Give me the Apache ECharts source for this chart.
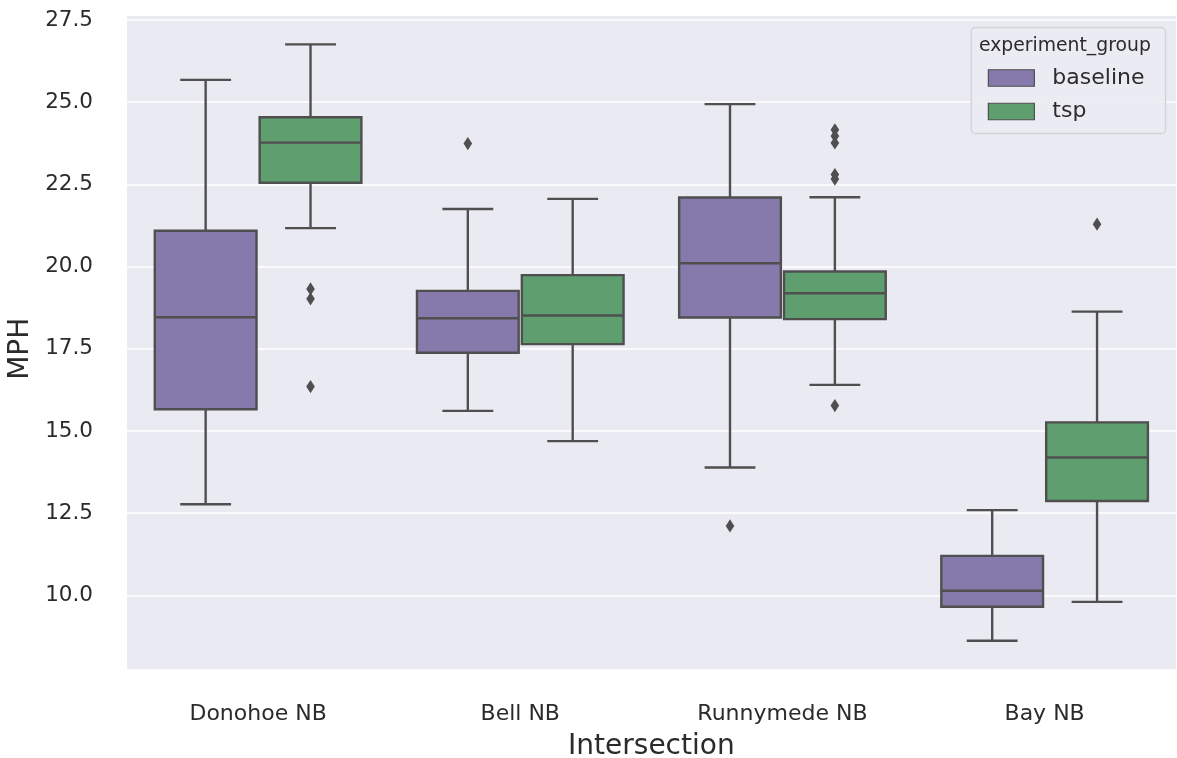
<!DOCTYPE html>
<html>
<head>
<meta charset="utf-8">
<script src="https://cdn.jsdelivr.net/npm/echarts@6/dist/echarts.min.js"></script>
<style>
  html, body { margin: 0; padding: 0; background: #ffffff; }
  #chart { width: 1177px; height: 758px; }
</style>
</head>
<body>
<div id="chart"></div>
<script>
// Intersections along the x axis
const categories = ['Donohoe NB', 'Bell NB', 'Runnymede NB', 'Bay NB'];
const yTicks = [10, 12.5, 15, 17.5, 20, 22.5, 25, 27.5];

// Box summaries per intersection: [lower whisker, Q1, median, Q3, upper whisker]
const baselineBoxes = [
  [12.77, 15.66, 18.46, 21.09, 25.68],
  [15.61, 17.38, 18.43, 19.26, 21.75],
  [13.89, 18.45, 20.10, 22.10, 24.94],
  [8.62, 9.65, 10.14, 11.20, 12.59]
];
const tspBoxes = [
  [21.17, 22.55, 23.77, 24.54, 26.76],
  [14.69, 17.64, 18.51, 19.74, 22.06],
  [16.40, 18.40, 19.19, 19.85, 22.11],
  [9.80, 12.87, 14.19, 15.26, 18.63]
];

// Outliers: [intersection index, MPH]
const baselineOutliers = [
  [1, 23.74],
  [2, 12.11]
];
const tspOutliers = [
  [0, 19.32], [0, 19.02], [0, 16.35],
  [2, 24.16], [2, 23.97], [2, 23.76], [2, 22.80], [2, 22.66], [2, 15.77],
  [3, 21.29]
];

const PURPLE = '#8679ab';
const GREEN = '#5f9e6e';
const EDGE = '#4f4f4f';
const LW = 2.4;
const FONT = 'DejaVu Sans';
const TEXT = '#2b2b2b';

function boxRenderer(side) {
  return function (params, api) {
    const cat = api.value(0);
    const band = api.size([1, 0])[0];
    const cx = api.coord([cat, 0])[0] + side * 0.2 * band;
    const half = band * 0.194;
    const capHalf = half / 2;
    const y = (i) => api.coord([cat, api.value(i)])[1];
    const yMin = y(1), yQ1 = y(2), yMed = y(3), yQ3 = y(4), yMax = y(5);
    const ls = { stroke: EDGE, lineWidth: LW, fill: null };
    return {
      type: 'group',
      children: [
        { type: 'line', shape: { x1: cx, y1: yMax, x2: cx, y2: yQ3 }, style: ls },
        { type: 'line', shape: { x1: cx, y1: yQ1, x2: cx, y2: yMin }, style: ls },
        { type: 'line', shape: { x1: cx - capHalf, y1: yMax, x2: cx + capHalf, y2: yMax }, style: ls },
        { type: 'line', shape: { x1: cx - capHalf, y1: yMin, x2: cx + capHalf, y2: yMin }, style: ls },
        { type: 'rect', shape: { x: cx - half, y: yQ3, width: half * 2, height: yQ1 - yQ3 },
          style: { fill: api.visual('color'), stroke: EDGE, lineWidth: LW } },
        { type: 'line', shape: { x1: cx - half, y1: yMed, x2: cx + half, y2: yMed }, style: ls }
      ]
    };
  };
}

function outlierRenderer(side) {
  return function (params, api) {
    const cat = api.value(0);
    const band = api.size([1, 0])[0];
    const p = api.coord([cat, api.value(1)]);
    const cx = p[0] + side * 0.2 * band;
    const cy = p[1];
    const w = 4.3, h = 6.6;
    return {
      type: 'polygon',
      shape: { points: [[cx, cy - h], [cx + w, cy], [cx, cy + h], [cx - w, cy]] },
      style: { fill: EDGE, stroke: null }
    };
  };
}

const boxData = (rows) => rows.map((r, i) => [i].concat(r));

const chart = echarts.init(document.getElementById('chart'), null, { renderer: 'canvas' });

const option = {
  animation: false,
  backgroundColor: '#ffffff',
  textStyle: { fontFamily: FONT },
  grid: { left: 127, right: 1.3, top: 20, bottom: 80.5, containLabel: false, outerBoundsMode: 'none' },
  graphic: [
    {
      type: 'rect',
      z: -100,
      shape: { x: 127, y: 16, width: 1049, height: 653.3 },
      style: { fill: '#eaeaf2' },
      silent: true
    }
  ],
  title: {
    text: 'experiment_group',
    left: 979,
    top: 37,
    padding: 0,
    textStyle: { fontFamily: FONT, fontSize: 18.8, fontWeight: 'normal', color: TEXT }
  },
  legend: {
    orient: 'vertical',
    right: 11.5,
    top: 27.5,
    padding: [39.5, 21, 11, 16.5],
    itemWidth: 46,
    itemHeight: 16.5,
    itemGap: 11.5,
    backgroundColor: 'rgba(235,235,243,0.88)',
    borderColor: '#d2d2d8',
    borderWidth: 1.3,
    borderRadius: 4,
    selectedMode: false,
    textStyle: { fontFamily: FONT, fontSize: 22, color: TEXT, padding: [0, 0, 0, 13] },
    data: [
      { name: 'baseline', icon: 'rect', itemStyle: { color: PURPLE, borderColor: EDGE, borderWidth: 1.2 } },
      { name: 'tsp', icon: 'rect', itemStyle: { color: GREEN, borderColor: EDGE, borderWidth: 1.2 } }
    ]
  },
  xAxis: {
    type: 'category',
    data: categories,
    boundaryGap: true,
    axisLine: { show: false },
    axisTick: { show: false },
    splitLine: { show: false },
    axisLabel: { fontFamily: FONT, fontSize: 22, color: TEXT, margin: 26 },
    name: 'Intersection',
    nameLocation: 'middle',
    nameGap: 55,
    nameTextStyle: { fontFamily: FONT, fontSize: 28, color: TEXT }
  },
  yAxis: {
    type: 'value',
    min: 7.5,
    max: 27.5,
    interval: 2.5,
    axisLine: { show: false },
    axisTick: { show: false },
    splitLine: { show: true, lineStyle: { color: '#ffffff', width: 1.6 } },
    axisLabel: {
      fontFamily: FONT, fontSize: 21.5, color: TEXT, margin: 34,
      formatter: (v) => (yTicks.indexOf(v) >= 0 ? v.toFixed(1) : '')
    },
    name: 'MPH',
    nameLocation: 'middle',
    nameGap: 90,
    nameTextStyle: { fontFamily: FONT, fontSize: 28, color: TEXT }
  },
  series: [
    {
      name: 'baseline',
      type: 'custom',
      renderItem: boxRenderer(-1),
      itemStyle: { color: PURPLE },
      encode: { x: 0, y: [1, 2, 3, 4, 5] },
      data: boxData(baselineBoxes)
    },
    {
      name: 'tsp',
      type: 'custom',
      renderItem: boxRenderer(1),
      itemStyle: { color: GREEN },
      encode: { x: 0, y: [1, 2, 3, 4, 5] },
      data: boxData(tspBoxes)
    },
    {
      name: 'baseline',
      type: 'custom',
      renderItem: outlierRenderer(-1),
      itemStyle: { color: PURPLE },
      encode: { x: 0, y: 1 },
      data: baselineOutliers
    },
    {
      name: 'tsp',
      type: 'custom',
      renderItem: outlierRenderer(1),
      itemStyle: { color: GREEN },
      encode: { x: 0, y: 1 },
      data: tspOutliers
    }
  ]
};

chart.setOption(option);
</script>
</body>
</html>
